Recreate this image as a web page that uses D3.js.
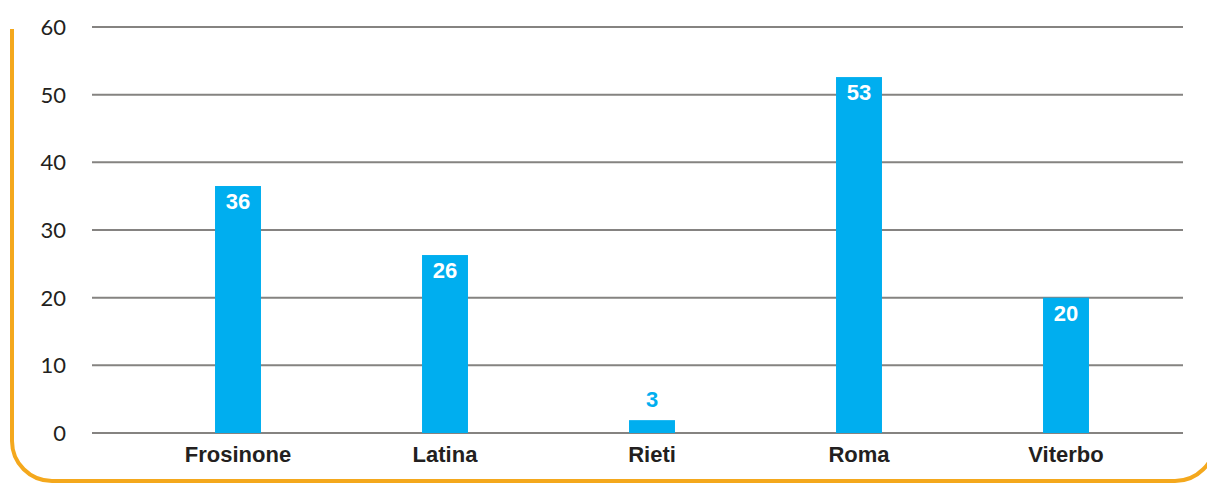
<!DOCTYPE html>
<html><head><meta charset="utf-8">
<script src="https://cdn.jsdelivr.net/npm/d3@7"></script>
<style>html,body{margin:0;padding:0;background:#fff;}svg{display:block;}</style>
</head><body>
<svg id="chart" width="1207" height="483"></svg>
<script>
const categories = ["Frosinone", "Latina", "Rieti", "Roma", "Viterbo"];
const values = [36.5, 26.3, 1.9, 52.6, 20];
const valueLabels = ["36", "26", "3", "53", "20"];
const yTicks = [0, 10, 20, 30, 40, 50, 60];

const svg = d3.select("#chart");

// orange frame
svg.append("path")
  .attr("d", "M12,29 V441 A40,40 0 0 0 52,481 H1175 A40,40 0 0 0 1215,441 V29")
  .attr("fill", "none").attr("stroke", "#f4a81d").attr("stroke-width", 4);

const y = d3.scaleLinear().domain([0, 60]).range([433, 27]);
const x = d3.scaleBand().domain(categories).range([134.5, 1169.5]).paddingInner(0).paddingOuter(0);
const barW = x.bandwidth() * 0.222;

// y tick labels
const yAxis = d3.axisLeft(y).tickValues(yTicks).tickSize(0).tickPadding(0);
const gy = svg.append("g").attr("transform", "translate(66,0)").call(yAxis);
gy.select(".domain").remove();
gy.selectAll("text").attr("font-family", "Lato, 'Open Sans', sans-serif").attr("font-size", 22)
  .attr("fill", "#231f20").attr("x", 0).attr("dy", "0.34em");

// gridlines
svg.append("g").selectAll("line").data(yTicks).join("line")
  .attr("x1", 92).attr("x2", 1183)
  .attr("y1", d => y(d)).attr("y2", d => y(d))
  .attr("stroke", "#858381").attr("stroke-width", 2);

// bars
svg.append("g").selectAll("rect").data(values).join("rect")
  .attr("x", (d, i) => x(categories[i]) + (x.bandwidth() - barW) / 2)
  .attr("width", barW)
  .attr("y", d => y(d))
  .attr("height", d => y(0) - y(d))
  .attr("fill", "#00aeef");

// value labels
svg.append("g").selectAll("text").data(values).join("text")
  .attr("x", (d, i) => x(categories[i]) + x.bandwidth() / 2)
  .attr("y", d => (y(0) - y(d) > 30) ? y(d) + 23 : y(d) - 13)
  .attr("text-anchor", "middle")
  .attr("font-family", "'Liberation Sans', Arial, sans-serif")
  .attr("font-weight", "bold").attr("font-size", 22)
  .attr("fill", d => (y(0) - y(d) > 30) ? "#ffffff" : "#00aeef")
  .text((d, i) => valueLabels[i]);

// category labels
const xAxis = d3.axisBottom(x).tickSize(0).tickPadding(0);
const gx = svg.append("g").attr("transform", "translate(0,433)").call(xAxis);
gx.select(".domain").remove();
gx.selectAll("text").attr("font-family", "'Liberation Sans', Arial, sans-serif")
  .attr("font-weight", "bold").attr("font-size", 22).attr("fill", "#231f20")
  .attr("y", 29).attr("dy", 0);
</script>
</body></html>
